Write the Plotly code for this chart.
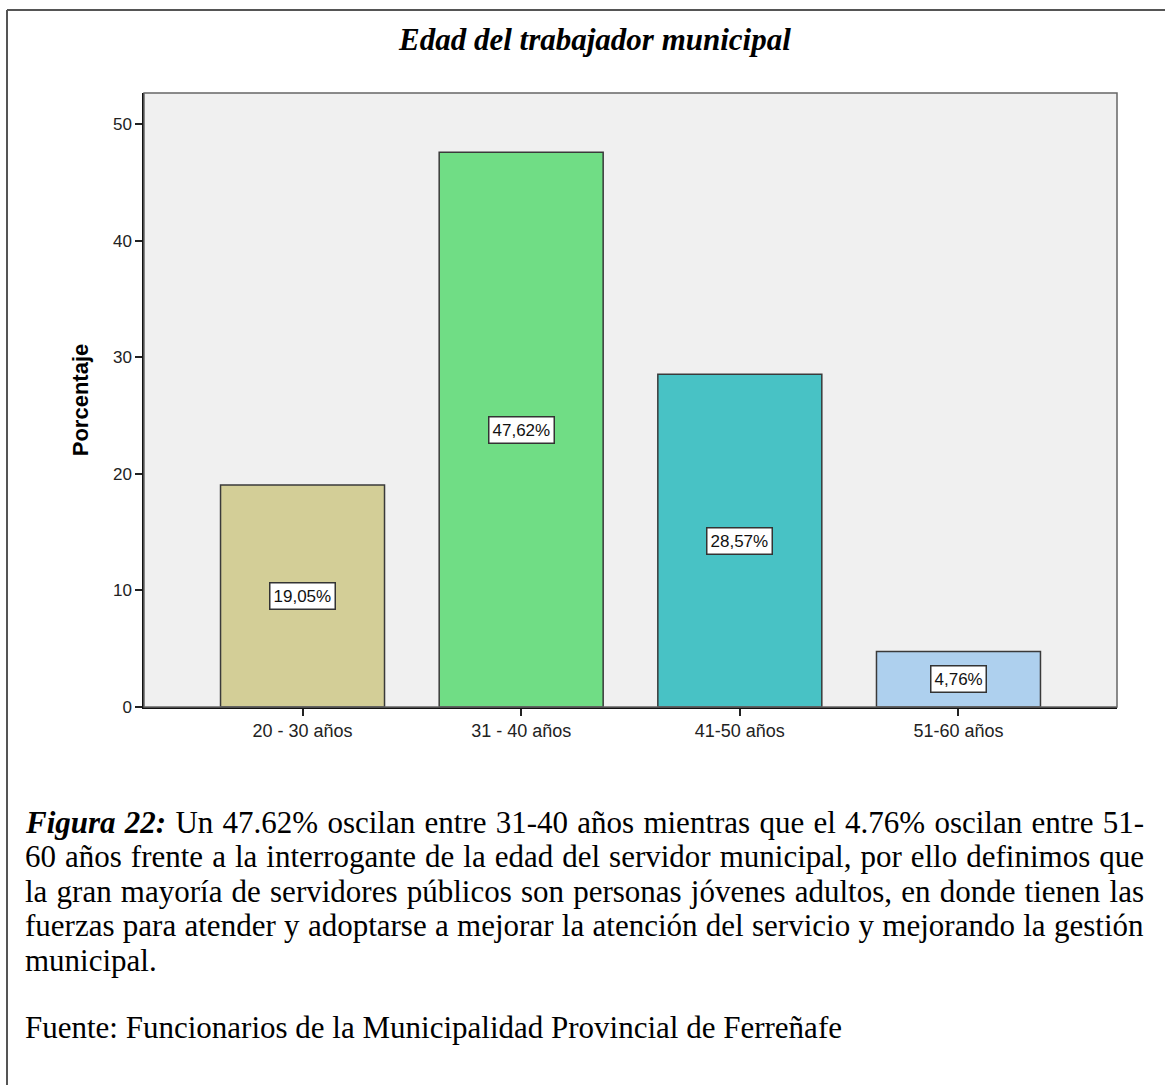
import plotly.graph_objects as go

categories = ["20 - 30 años", "31 - 40 años", "41-50 años", "51-60 años"]
percentages = [19.05, 47.62, 28.57, 4.76]
bar_colors = ["#d3ce97", "#70dd85", "#48c2c5", "#aed0ee"]
y_ticks = [0, 10, 20, 30, 40, 50]

title_text = "<b><i>Edad del trabajador municipal</i></b>"
caption_lines = [
    "<b><i>Figura 22:</i></b> Un 47.62% oscilan entre 31-40 años mientras que el 4.76% oscilan entre 51-",
    "60 años frente a la interrogante de la edad del servidor municipal, por ello definimos que",
    "la gran mayoría de servidores públicos son personas jóvenes adultos, en donde tienen las",
    "fuerzas para atender y adoptarse a mejorar la atención del servicio y mejorando la gestión",
    "municipal.",
]
source_line = "Fuente: Funcionarios de la Municipalidad Provincial de Ferreñafe"

W, H = 1165, 1085
L, R, T, B = 144, 1117, 93, 707
pw, ph = R - L, B - T


def px_x(x):
    return (x - L) / pw


def px_y(y):
    return (B - y) / ph


fig = go.Figure()
fig.add_trace(go.Bar(
    x=list(range(len(categories))),
    y=percentages,
    width=0.75,
    marker=dict(color=bar_colors, line=dict(color="#3a3a3a", width=1.5)),
    hoverinfo="skip",
))

annotations = []
for i, v in enumerate(percentages):
    annotations.append(dict(
        x=i, y=v / 2, xref="x", yref="y",
        text=f"{v:.2f}".replace(".", ",") + "%",
        showarrow=False,
        font=dict(family="Liberation Sans, Arial, sans-serif", size=17, color="#111"),
        bgcolor="white", bordercolor="#333", borderwidth=1.5, borderpad=3,
    ))

annotations.append(dict(
    x=px_x(594), y=px_y(40), xref="paper", yref="paper",
    text=title_text, showarrow=False, xanchor="center", yanchor="middle",
    font=dict(family="Liberation Serif, Times New Roman, serif", size=31, color="black"),
))

serif = dict(family="Liberation Serif, Times New Roman, serif", size=31, color="black")
y0 = 822
for k, line in enumerate(caption_lines):
    annotations.append(dict(
        x=px_x(23), y=px_y(y0 + 34.5 * k), xref="paper", yref="paper",
        text=line, showarrow=False, xanchor="left", yanchor="middle",
        align="left", font=serif,
    ))
annotations.append(dict(
    x=px_x(23), y=px_y(1027), xref="paper", yref="paper",
    text=source_line, showarrow=False, xanchor="left", yanchor="middle",
    align="left", font=serif,
))

shapes = [
    dict(type="rect", xref="paper", yref="paper", x0=0, y0=0, x1=1, y1=1,
         line=dict(color="#666", width=1.5), layer="above"),
    dict(type="line", xref="paper", yref="paper",
         x0=px_x(7), x1=px_x(7), y0=px_y(10), y1=px_y(H + 20),
         line=dict(color="#555", width=2)),
    dict(type="line", xref="paper", yref="paper",
         x0=px_x(7), x1=px_x(W + 20), y0=px_y(10), y1=px_y(10),
         line=dict(color="#555", width=2)),
]

fig.update_layout(
    width=W, height=H,
    margin=dict(l=L, r=W - R, t=T, b=H - B, pad=0),
    paper_bgcolor="white", plot_bgcolor="#f0f0f0",
    showlegend=False,
    annotations=annotations,
    shapes=shapes,
)
fig.update_xaxes(
    range=[-0.725, 3.725],
    tickmode="array", tickvals=list(range(len(categories))), ticktext=categories,
    ticks="outside", ticklen=7, tickwidth=1.5, tickcolor="#222",
    showline=True, linecolor="#111", linewidth=1.5,
    showgrid=False, zeroline=False,
    tickfont=dict(family="Liberation Sans, Arial, sans-serif", size=18, color="#222"),
)
fig.update_yaxes(
    range=[0, 52.7],
    tickmode="array", tickvals=y_ticks,
    ticks="outside", ticklen=7, tickwidth=1.5, tickcolor="#222",
    showline=True, linecolor="#111", linewidth=1.5,
    showgrid=False, zeroline=False,
    tickfont=dict(family="Liberation Sans, Arial, sans-serif", size=17, color="#222"),
    title=dict(text="<b>Porcentaje</b>", standoff=18,
               font=dict(family="Liberation Sans, Arial, sans-serif", size=22, color="black")),
)

# justify the first four caption lines to the right text margin (like the original document)
post = """
document.body.style.margin='0';
(function(){
  var starts = ['Figura 22', '60 años', 'la gran', 'fuerzas'];
  var target = 1142 - 23;
  document.querySelectorAll('text.annotation-text').forEach(function(t){
    var s = t.textContent;
    var ok = starts.some(function(p){ return s.indexOf(p) === 0; });
    if (!ok) return;
    var w = t.getBBox().width;
    var n = (s.match(/ /g) || []).length;
    if (n > 0 && w < target) { t.style.wordSpacing = ((target - w) / n) + 'px'; }
  });
})();
"""

fig.write_html("out.html", post_script=post, config={"displayModeBar": False})
